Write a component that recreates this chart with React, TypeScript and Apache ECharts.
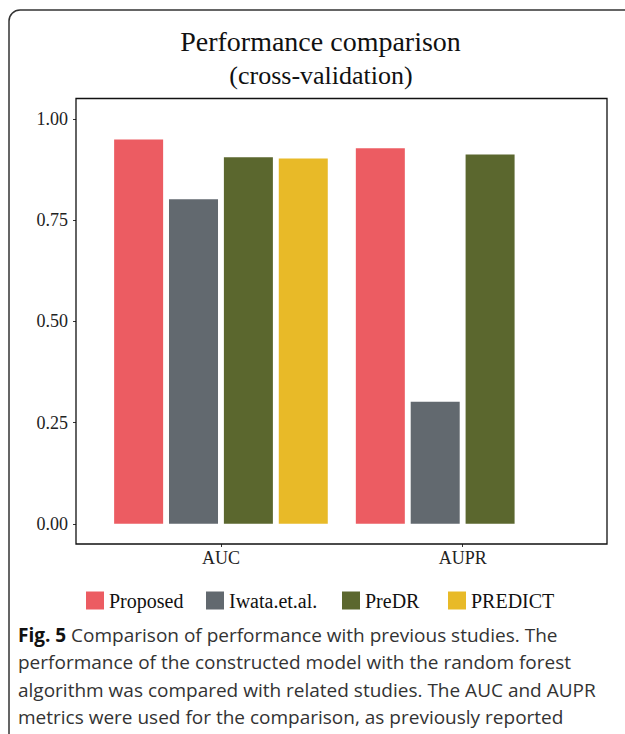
import React, { useEffect, useRef } from "react";
import * as echarts from "echarts";

const categories = ["AUC", "AUPR"];
const seriesNames = ["Proposed", "Iwata.et.al.", "PreDR", "PREDICT"];
const proposed = [0.949, 0.927];
const iwata = [0.801, 0.301];
const predr = [0.905, 0.912];
const predict: (number | null)[] = [0.902, null];
const colors = ["#EC5C62", "#62696F", "#5B672E", "#E8BA28"];
const yTicks = [0, 0.25, 0.5, 0.75, 1.0];
const captionLines = [
  "{b|Fig. 5} Comparison of performance with previous studies. The",
  "performance of the constructed model with the random forest",
  "algorithm was compared with related studies. The AUC and AUPR",
  "metrics were used for the comparison, as previously reported",
];

export default function App() {
  const ref = useRef<HTMLDivElement>(null);
  useEffect(() => {
    document.body.style.margin = "0";
    if (!ref.current) return;
    const chart = echarts.init(ref.current, undefined, { renderer: "svg" });
    const serif = "'Liberation Serif', 'Times New Roman', serif";
    const sans = "'Open Sans', 'Noto Sans', sans-serif";
    const values = [proposed, iwata, predr, predict];
    const frameL = 76, frameT = 98.5, frameR = 607, frameB = 544;
    const gridL = 100.1, gridR = 583.5;
    const legendLefts = [86, 206, 342, 448];
    chart.setOption({
      animation: false,
      grid: {
        left: gridL,
        right: 625 - gridR,
        top: frameT,
        bottom: 734 - frameB,
        containLabel: false,
      },
      xAxis: {
        type: "category",
        data: categories,
        axisLine: { show: false, onZero: false },
        axisTick: { show: true, alignWithLabel: true, length: 3, lineStyle: { color: "#333" } },
        axisLabel: { color: "#222", fontFamily: serif, fontSize: 18, margin: 5 },
        splitLine: { show: false },
      },
      yAxis: {
        type: "value",
        min: -0.05,
        max: 1.05,
        offset: gridL - frameL,
        axisLine: { show: false },
        axisTick: { show: true, length: 3, customValues: yTicks, lineStyle: { color: "#333" } },
        axisLabel: {
          customValues: yTicks,
          formatter: (v: number) => v.toFixed(2),
          color: "#222",
          fontFamily: serif,
          fontSize: 18,
          margin: 8,
        },
        splitLine: { show: false },
      },
      legend: seriesNames.map((name, i) => ({
        top: 590.5,
        left: legendLefts[i],
        icon: "rect",
        itemWidth: 18,
        itemHeight: 18,
        itemGap: 0,
        padding: 0,
        textStyle: { fontFamily: serif, fontSize: 20, color: "#111" },
        data: [name],
      })),
      series: seriesNames.map((name, i) => ({
        name,
        type: "bar",
        data: values[i],
        barWidth: 49,
        barGap: "12%",
        itemStyle: { color: colors[i] },
      })),
      graphic: [
        {
          type: "rect",
          shape: { x: 9, y: 10, width: 640, height: 760, r: 11 },
          style: { fill: "none", stroke: "#333", lineWidth: 1.5 },
          z: 10,
        },
        {
          type: "rect",
          shape: { x: frameL, y: frameT, width: frameR - frameL, height: frameB - frameT },
          style: { fill: "none", stroke: "#111", lineWidth: 1.3 },
          z: 10,
        },
        {
          type: "text",
          x: 320.5,
          y: 41,
          style: {
            text: "Performance comparison",
            fontFamily: serif,
            fontSize: 28,
            fill: "#111",
            textAlign: "center",
            textVerticalAlign: "middle",
          },
        },
        {
          type: "text",
          x: 321,
          y: 75,
          style: {
            text: "(cross-validation)",
            fontFamily: serif,
            fontSize: 26,
            fill: "#111",
            textAlign: "center",
            textVerticalAlign: "middle",
          },
        },
        ...captionLines.map((t, i) => ({
          type: "text",
          x: 18,
          y: 635 + i * 27.3,
          style: {
            text: t,
            fontFamily: sans,
            fontSize: 19,
            fill: "#333",
            textAlign: "left",
            textVerticalAlign: "middle",
            rich: {
              b: { fontFamily: sans, fontSize: 19, fontWeight: "bold", fill: "#111" },
            },
          },
        })),
      ],
    });
    return () => chart.dispose();
  }, []);
  return <div ref={ref} style={{ width: 625, height: 734 }} />;
}
